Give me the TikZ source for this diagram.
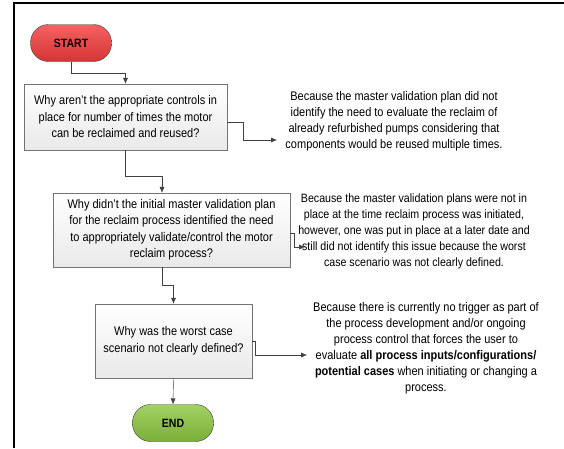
\documentclass[tikz,border=0pt]{standalone}
\usepackage{fontspec}
\setmainfont{Liberation Sans}[FakeStretch=0.88]
\usetikzlibrary{arrows.meta}
\definecolor{startred}{HTML}{F23B3B}
\definecolor{endgreen}{HTML}{8CC63F}
\definecolor{linegray}{HTML}{404040}
\begin{document}
\begin{tikzpicture}[x=1pt,y=-1pt,
    term/.style={draw=linegray,rounded corners=18pt,minimum width=81pt,minimum height=37pt,
      font=\bfseries\fontsize{12}{14}\selectfont},
    why/.style={draw=gray!90!black,top color=white,bottom color=gray!17,align=center,
      inner sep=2pt,font=\fontsize{12.5}{16.5}\selectfont},
    because/.style={align=center,inner sep=2pt,font=\fontsize{12.5}{16}\selectfont},
    flow/.style={draw=linegray,-{Latex[length=6pt,width=5pt]}}]
  \useasboundingbox (0,0) rectangle (564,448);
  \draw[line width=2.8pt] (14,448) -- (14,3) -- (564,3);
  \node[term,top color=startred!80!white,bottom color=startred!88!black] (start) at (71,43) {START};
  \node[why,minimum width=203pt,minimum height=66pt] (q1) at (125.5,117)
    {Why aren't the appropriate controls in\\place for number of times the motor\\can be reclaimed and reused?};
  \node[why,minimum width=237pt,minimum height=74pt] (q2) at (171.5,230)
    {Why didn't the initial master validation plan\\for the reclaim process identified the need\\to appropriately validate/control the motor\\reclaim process?};
  \node[why,minimum width=157pt,minimum height=74pt] (q3) at (173.5,341)
    {Why was the worst case\\scenario not clearly defined?};
  \node[term,top color=endgreen!80!white,bottom color=endgreen!88!black] (end) at (173,423) {END};
  \node[because] (a1) at (394,121)
    {Because the master validation plan did not\\identify the need to evaluate the reclaim of\\already refurbished pumps considering that\\components would be reused multiple times.};
  \node[because,font=\fontsize{12.1}{16}\selectfont] (a2) at (414,231)
    {Because the master validation plans were not in\\place at the time reclaim process was initiated,\\however, one was put in place at a later date and\\still did not identify this issue because the worst\\case scenario was not clearly defined.};
  \node[because] (a3) at (426,348)
    {Because there is currently no trigger as part of\\the process development and/or ongoing\\process control that forces the user to\\evaluate \textbf{all process inputs/configurations/}\\\textbf{potential cases} when initiating or changing a\\process.};
  \coordinate (a1in) at (277,140);
  \coordinate (a2in) at (305,247);
  \coordinate (a3in) at (307,355);
  \begin{scope}[flow]
    \draw (start.south) -- ++(0,11) -| (q1.north);
    \draw (q1.south) -- ++(0,26) -| ([xshift=-9.5pt]q2.north);
    \draw ([xshift=-9.5pt]q2.south) -- ++(0,18) -| (q3.north);
    \draw (q3.south) -- (end.north);
    \draw ([yshift=-5pt]q1.east) -- ++(16,0) |- (a1in);
    \draw ([yshift=-3pt]q2.east) -- ++(3.5,0) |- (a2in);
    \draw (q3.east) -- ++(3,0) |- (a3in);
  \end{scope}
\end{tikzpicture}
\end{document}
